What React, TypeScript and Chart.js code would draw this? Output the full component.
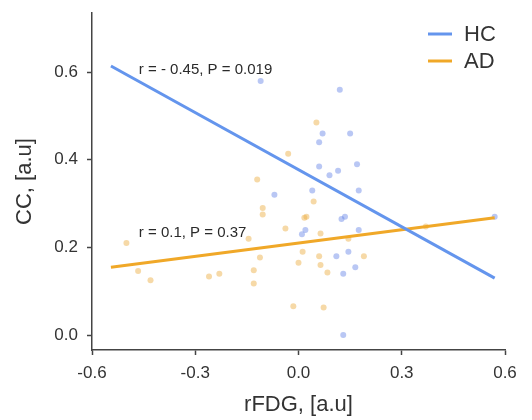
import React, { useEffect, useRef } from "react";
import { Chart, registerables } from "chart.js";

Chart.register(...registerables);

// HC (healthy controls) scatter points
const hcX = [-0.11, 0.12, 0.07, 0.15, 0.06, 0.06, 0.17, 0.09, 0.115, 0.04, 0.175, -0.07, 0.01, 0.02, 0.125, 0.135, 0.175, 0.11, 0.145, 0.165, 0.13, 0.13, 0.57];
const hcY = [0.58, 0.56, 0.46, 0.46, 0.44, 0.385, 0.39, 0.365, 0.375, 0.33, 0.33, 0.32, 0.23, 0.24, 0.265, 0.27, 0.24, 0.18, 0.19, 0.155, 0.14, 0.0, 0.27];

// AD scatter points
const adX = [-0.5, -0.466, -0.43, -0.26, -0.23, -0.145, -0.12, -0.104, -0.104, -0.112, -0.13, -0.13, -0.03, 0.052, -0.038, 0.017, 0.044, 0.023, 0.064, 0.145, 0.012, 0.0, 0.06, 0.064, 0.084, 0.19, -0.015, 0.073, 0.37];
const adY = [0.21, 0.146, 0.125, 0.134, 0.14, 0.22, 0.355, 0.29, 0.275, 0.177, 0.148, 0.118, 0.414, 0.485, 0.243, 0.268, 0.305, 0.27, 0.232, 0.22, 0.19, 0.165, 0.18, 0.16, 0.143, 0.18, 0.066, 0.063, 0.248];

// Regression lines (end points)
const hcFitX = [-0.545, 0.57];
const hcFitY = [0.614, 0.13];
const adFitX = [-0.545, 0.57];
const adFitY = [0.155, 0.268];

const groupLabels = ["HC", "AD"];
const annotTexts = ["r = - 0.45, P = 0.019", "r = 0.1, P = 0.37"];
const annotX = [-0.464, -0.464];
const annotY = [0.605, 0.233];

const xTicks = [-0.6, -0.3, 0.0, 0.3, 0.6];
const yTicks = [0.0, 0.2, 0.4, 0.6];

const BLUE = "rgb(100,149,237)";
const ORANGE = "rgb(240,168,40)";
const BLUE_PT = "rgba(100,130,230,0.45)";
const ORANGE_PT = "rgba(235,170,60,0.45)";
const FONT = "'Liberation Sans', Arial, Helvetica, sans-serif";
const AXIS = "#444";
const TEXT = "#333";

const toPts = (xs: number[], ys: number[]) => xs.map((x, i) => ({ x, y: ys[i] }));

const overlayPlugin = {
  id: "overlay",
  afterDatasetsDraw(chart: any) {
    const { ctx, scales } = chart;
    const xs = scales.x;
    const ys = scales.y;
    ctx.save();
    // annotations
    ctx.font = `15px ${FONT}`;
    ctx.fillStyle = "#2a2a2a";
    ctx.textAlign = "left";
    ctx.textBaseline = "middle";
    annotTexts.forEach((t, i) => {
      ctx.fillText(t, xs.getPixelForValue(annotX[i]), ys.getPixelForValue(annotY[i]));
    });
    // legend
    const colors = [BLUE, ORANGE];
    const right = chart.chartArea.right;
    const top = chart.chartArea.top;
    ctx.font = `22px ${FONT}`;
    groupLabels.forEach((lab, i) => {
      const yy = top + 21 + i * 27;
      const lx = right - 77;
      ctx.strokeStyle = colors[i];
      ctx.lineWidth = 3;
      ctx.beginPath();
      ctx.moveTo(lx, yy);
      ctx.lineTo(lx + 24, yy);
      ctx.stroke();
      ctx.fillStyle = TEXT;
      ctx.textAlign = "left";
      ctx.fillText(lab, lx + 36, yy + 1);
    });
    ctx.restore();
  },
};

export default function App() {
  const ref = useRef<HTMLCanvasElement | null>(null);
  useEffect(() => {
    if (!ref.current) return;
    const chart = new Chart(ref.current, {
      type: "scatter",
      data: {
        datasets: [
          {
            type: "line",
            label: groupLabels[0],
            data: toPts(hcFitX, hcFitY),
            borderColor: BLUE,
            borderWidth: 3,
            pointRadius: 0,
            fill: false,
            order: 0,
          } as any,
          {
            type: "line",
            label: groupLabels[1],
            data: toPts(adFitX, adFitY),
            borderColor: ORANGE,
            borderWidth: 3,
            pointRadius: 0,
            fill: false,
            order: 1,
          } as any,
          {
            label: groupLabels[0] + " points",
            data: toPts(hcX, hcY),
            backgroundColor: BLUE_PT,
            borderWidth: 0,
            pointRadius: 3,
            order: 2,
          },
          {
            label: groupLabels[1] + " points",
            data: toPts(adX, adY),
            backgroundColor: ORANGE_PT,
            borderWidth: 0,
            pointRadius: 3,
            order: 3,
          },
        ],
      },
      options: {
        animation: false,
        responsive: false,
        layout: { padding: { left: 0, top: 13, right: 27, bottom: 0 } },
        plugins: { legend: { display: false }, tooltip: { enabled: false } },
        scales: {
          x: {
            type: "linear",
            min: -0.6,
            max: 0.6,
            afterFit: (s: any) => { s.height = 70; s.paddingLeft = 0; s.paddingRight = 0; },
            afterBuildTicks: (s: any) => { s.ticks = xTicks.map((v) => ({ value: v })); },
            grid: { display: true, drawOnChartArea: false, drawTicks: true, tickLength: 5, tickColor: AXIS, tickWidth: 1.5 },
            border: { display: true, color: AXIS, width: 1.5 },
            ticks: {
              color: TEXT,
              padding: 8,
              font: { family: FONT, size: 17 },
              callback: (v: any) => Number(v).toFixed(1),
            },
            title: {
              display: true,
              text: "rFDG, [a.u]",
              color: TEXT,
              font: { family: FONT, size: 22 },
              padding: { top: 0, bottom: 2 },
            },
          },
          y: {
            type: "linear",
            min: -0.034,
            max: 0.735,
            afterFit: (s: any) => { s.width = 92; s.paddingTop = 0; s.paddingBottom = 0; },
            afterBuildTicks: (s: any) => { s.ticks = yTicks.map((v) => ({ value: v })); },
            grid: { display: true, drawOnChartArea: false, drawTicks: true, tickLength: 5, tickColor: AXIS, tickWidth: 1.5 },
            border: { display: true, color: AXIS, width: 1.5 },
            ticks: {
              color: TEXT,
              padding: 9,
              font: { family: FONT, size: 17 },
              callback: (v: any) => Number(v).toFixed(1),
            },
            title: {
              display: true,
              text: "CC, [a.u]",
              color: TEXT,
              font: { family: FONT, size: 22 },
              padding: { top: 12, bottom: 0 },
            },
          },
        },
      },
      plugins: [overlayPlugin],
    });
    return () => chart.destroy();
  }, []);
  return (
    <div style={{ position: "fixed", left: 0, top: 0, width: 532, height: 420, background: "#fff" }}>
      <canvas ref={ref} width={532} height={420} style={{ display: "block" }} />
    </div>
  );
}
